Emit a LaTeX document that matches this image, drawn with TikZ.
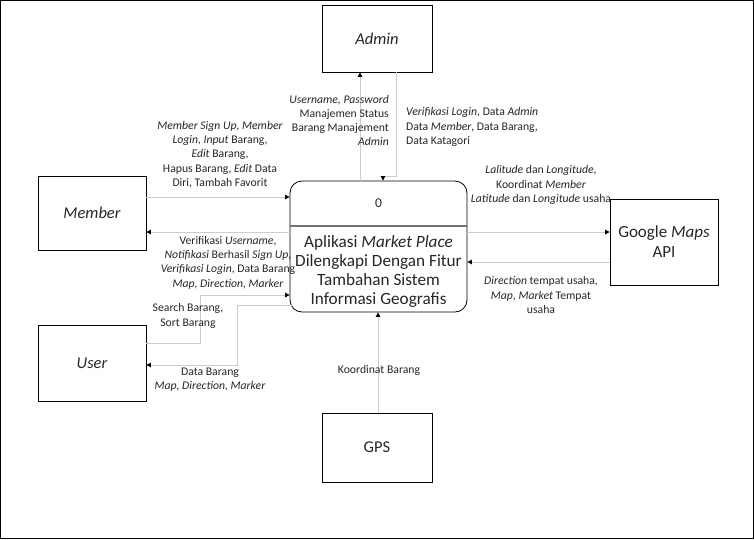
\documentclass[tikz,border=0pt]{standalone}
\usepackage{fontspec}
\setmainfont{Carlito}
\usetikzlibrary{arrows.meta}
\begin{document}
\begin{tikzpicture}[x=1pt,y=-1pt,
  ent/.style={draw=black, line width=0.8pt, inner sep=0pt, text=black!85,
    font=\fontsize{16.5}{19}\selectfont},
  lbl/.style={font=\fontsize{11.7}{14.3}\selectfont, align=center, text=black!85, inner sep=0pt},
  flow/.style={draw=black!20, line width=0.8pt,
    -{Triangle[length=4.5pt,width=4.5pt,color=black]}},
]
\useasboundingbox (0,0) rectangle (754,539);
\draw[line width=1pt] (0.5,0.5) rectangle (753.5,538.5);

% entities
\node[ent, minimum width=110pt, minimum height=67pt] (admin) at (377,38.5) {\itshape Admin};
\node[ent, minimum width=108pt, minimum height=74pt] (member) at (92,213) {\itshape Member};
\node[ent, minimum width=108pt, minimum height=86pt, align=center, font=\fontsize{17}{20}\selectfont] (gmaps) at (664,242) {Google \textit{Maps}\\API};
\node[ent, minimum width=108pt, minimum height=76pt] (user) at (92,363) {\itshape User};
\node[ent, minimum width=110pt, minimum height=69pt] (gps) at (377,447.5) {GPS};

% process
\node[draw=black, line width=0.8pt, rounded corners=12pt, minimum width=177pt, minimum height=131pt, inner sep=0pt] (proc) at (378.5,246.5) {};
\draw[black!55, line width=1.5pt] (proc.west |- 0,226) -- (proc.east |- 0,226);
\node[text=black!85, font=\fontsize{13.5}{16}\selectfont] (pnum) at (378.5,203) {0};
\node[text=black!85, align=center, inner sep=0pt, font=\fontsize{17.2}{19}\selectfont] (ptxt) at (378.5,271.5)
  {Aplikasi \textit{Market Place}\\Dilengkapi Dengan Fitur\\Tambahan Sistem\\Informasi Geografis};

% connectors
\draw[flow] (proc.north -| 360,0) -- (admin.south -| 360,0);
\draw[flow] (admin.south -| 396,0) -- (396,176) -| (proc.north -| 383,0);
\draw[flow] (member.east |- 0,197) -- (proc.west |- 0,197);
\draw[flow] (proc.west |- 0,232) -- (member.east |- 0,232);
\draw[flow] (user.east |- 0,343) -| (200,295) -- (proc.west |- 0,295);
\draw[flow] (292,305) -| (237,365) -- (user.east |- 0,365);
\draw[flow] (proc.east |- 0,232) -- (gmaps.west |- 0,232);
\draw[flow] (gmaps.west |- 0,262) -- (proc.east |- 0,262);
\draw[flow] (gps.north -| 378,0) -- (proc.south -| 378,0);

% labels
\node[lbl, align=right, anchor=east] (l1) at (389,120.5)
  {\textit{Username, Password}\\Manajemen Status\\Barang Manajement\\\textit{Admin}};
\node[lbl, align=left, anchor=west] (l2) at (406,127)
  {\textit{Verifikasi Login}, Data \textit{Admin}\\Data \textit{Member}, Data Barang,\\Data Katagori};
\node[lbl] (l3) at (220,154.5)
  {\textit{Member Sign Up, Member}\\\textit{Login, Input} Barang,\\\textit{Edit} Barang,\\Hapus Barang, \textit{Edit} Data\\Diri, Tambah Favorit};
\node[lbl] (l4) at (228,262.5)
  {Verifikasi \textit{Username},\\\textit{Notifikasi} Berhasil \textit{Sign Up},\\\textit{Verifikasi Login}, Data Barang\\\textit{Map, Direction, Marker}};
\node[lbl] (l5) at (188,316) {Search Barang,\\Sort Barang};
\node[lbl] (l6) at (210,380) {Data Barang\\\textit{Map, Direction, Marker}};
\node[lbl] (l7) at (541,185)
  {\textit{Lalitude} dan \textit{Longitude},\\Koordinat \textit{Member}\\\textit{Latitude} dan \textit{Longitude} usaha};
\node[lbl] (l8) at (541,295)
  {\textit{Direction} tempat usaha,\\\textit{Map, Market} Tempat\\usaha};
\node[lbl] (l9) at (379,370) {Koordinat Barang};
\end{tikzpicture}
\end{document}
